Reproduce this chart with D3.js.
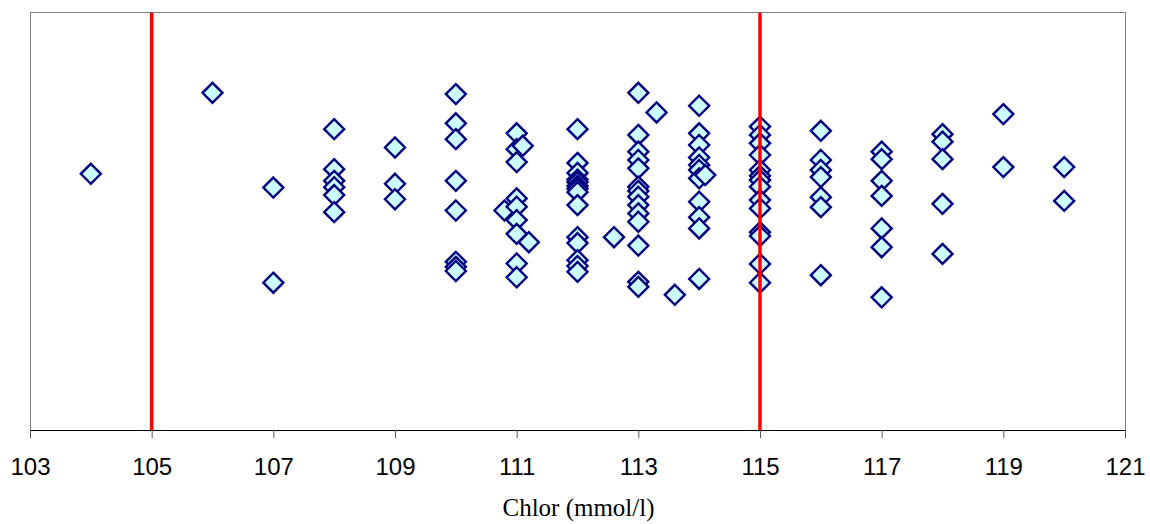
<!DOCTYPE html>
<html>
<head>
<meta charset="utf-8">
<script src="https://cdn.jsdelivr.net/npm/d3@7"></script>
<style>
  html, body { margin: 0; padding: 0; background: #fff; }
  svg { display: block; }
</style>
</head>
<body>
<svg id="chart" width="1150" height="524"></svg>
<script>
// Chloride values (mmol/l) and the vertical jitter used to spread overlapping points
const chlor = [
  104,
  106,
  107, 107,
  108, 108, 108, 108, 108, 108,
  109, 109, 109,
  110, 110, 110, 110, 110, 110, 110, 110,
  110.8,
  111, 111, 111, 111, 111, 111, 111, 111, 111,
  111.1, 111.2,
  112, 112, 112, 112, 112, 112, 112, 112, 112, 112, 112, 112, 112, 112,
  112.6,
  113, 113, 113, 113, 113, 113, 113, 113, 113, 113, 113, 113, 113, 113,
  113.3, 113.6,
  114, 114, 114, 114, 114, 114, 114, 114, 114, 114, 114,
  114.1,
  115, 115, 115, 115, 115, 115, 115, 115, 115, 115, 115, 115, 115, 115,
  116, 116, 116, 116, 116, 116, 116,
  117, 117, 117, 117, 117, 117, 117,
  118, 118, 118, 118, 118,
  119, 119,
  120, 120
];
const jitter = [
  0.614,
  0.808,
  0.581, 0.353,
  0.721, 0.625, 0.597, 0.582, 0.563, 0.522,
  0.677, 0.590, 0.553,
  0.805, 0.735, 0.697, 0.597, 0.526, 0.403, 0.391, 0.381,
  0.526,
  0.711, 0.673, 0.642, 0.555, 0.535, 0.503, 0.470, 0.399, 0.366,
  0.681, 0.450,
  0.721, 0.640, 0.616, 0.600, 0.594, 0.585, 0.578, 0.570, 0.539, 0.462, 0.448, 0.407, 0.393, 0.379,
  0.462,
  0.808, 0.707, 0.667, 0.647, 0.627, 0.583, 0.573, 0.559, 0.539, 0.519, 0.499, 0.442, 0.355, 0.343,
  0.761, 0.324,
  0.777, 0.711, 0.683, 0.653, 0.635, 0.623, 0.603, 0.547, 0.510, 0.483, 0.362,
  0.611,
  0.727, 0.707, 0.687, 0.659, 0.623, 0.609, 0.599, 0.583, 0.551, 0.531, 0.474, 0.465, 0.398, 0.353,
  0.717, 0.647, 0.623, 0.606, 0.558, 0.534, 0.371,
  0.667, 0.649, 0.597, 0.561, 0.483, 0.438, 0.318,
  0.709, 0.691, 0.649, 0.542, 0.422,
  0.757, 0.630,
  0.630, 0.549
];
// Reference limits of the normal range
const limits = [105, 115];
// Axis ticks
const xTicks = [103, 105, 107, 109, 111, 113, 115, 117, 119, 121];
const xTitle = "Chlor (mmol/l)";

const svg = d3.select("#chart");
const plot = { left: 30, right: 1125, top: 12.7, bottom: 430 };

const x = d3.scaleLinear().domain([103, 121]).range([plot.left, plot.right]);
const y = d3.scaleLinear().domain([0, 1]).range([plot.bottom, plot.top]);

// Plot frame
svg.append("rect")
  .attr("x", plot.left).attr("y", plot.top)
  .attr("width", plot.right - plot.left).attr("height", plot.bottom - plot.top)
  .attr("fill", "#fff").attr("stroke", "#808080").attr("stroke-width", 1)
  .attr("shape-rendering", "crispEdges");

// Diamond markers
const r = 10;
const pts = chlor.map((c, i) => ({ c, j: jitter[i] }));
svg.append("g").selectAll("path").data(pts).join("path")
  .attr("d", d => {
    const cx = x(d.c), cy = y(d.j);
    return `M${cx},${cy - r}L${cx + r},${cy}L${cx},${cy + r}L${cx - r},${cy}Z`;
  })
  .attr("fill", "#ccffff")
  .attr("stroke", "#000080")
  .attr("stroke-width", 2.4);

// Limit lines
svg.append("g").selectAll("line").data(limits).join("line")
  .attr("x1", d => x(d)).attr("x2", d => x(d))
  .attr("y1", y(1)).attr("y2", y(0) + 1)
  .attr("stroke", "#ff0000").attr("stroke-width", 3.5);

// Bottom axis
const axis = svg.append("g")
  .attr("transform", `translate(0,${plot.bottom})`)
  .call(d3.axisBottom(x).tickValues(xTicks).tickFormat(d3.format("d"))
    .tickSize(8).tickSizeOuter(0).tickPadding(20));
axis.select(".domain").attr("stroke", "#000").attr("stroke-width", 1.2);
axis.selectAll(".tick line").attr("stroke", "#555").attr("stroke-width", 1);
axis.selectAll(".tick text")
  .attr("fill", "#000")
  .style("font-family", "'Liberation Sans', Arial, sans-serif")
  .style("font-size", "24px");

// Axis title
svg.append("text")
  .attr("x", (plot.left + plot.right) / 2 + 1)
  .attr("y", 516)
  .attr("text-anchor", "middle")
  .style("font-family", "'Liberation Serif', 'Times New Roman', serif")
  .style("font-size", "25px")
  .attr("fill", "#000")
  .text(xTitle);
</script>
</body>
</html>
